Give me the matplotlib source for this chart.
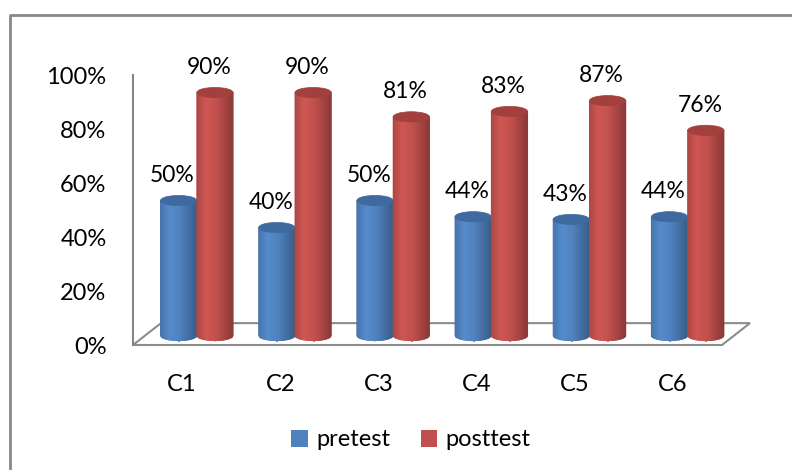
import numpy as np
import matplotlib
matplotlib.use('Agg')
import matplotlib.pyplot as plt
from matplotlib.patches import Polygon, Ellipse, Patch
from matplotlib.collections import PolyCollection
from matplotlib.lines import Line2D
from matplotlib.colors import to_rgb

categories = ['C1', 'C2', 'C3', 'C4', 'C5', 'C6']
pretest = [0.50, 0.40, 0.50, 0.44, 0.43, 0.44]
posttest = [0.90, 0.90, 0.81, 0.83, 0.87, 0.76]
series_names = ['pretest', 'posttest']
yticks = [0.0, 0.2, 0.4, 0.6, 0.8, 1.0]

body_colors = ['#4F81BD', '#C0504D']
top_colors = ['#3E6AA0', '#A33F3D']

plt.rcParams['font.family'] = ['Lato', 'DejaVu Sans']

fig = plt.figure(figsize=(7.92, 4.70), dpi=100)
ax = fig.add_axes([133 / 792, 125 / 470, 589 / 792, 270 / 470])
ax.set_xlim(-0.5, len(categories) - 0.5)
ax.set_ylim(0, 1)

# floor depth and cylinder placement, in data units
FLOOR_DX, FLOOR_DY = 0.285, 0.081
BAR_DX, BAR_DY = 0.15, 0.035
BAR_W = 0.37
RY = 0.019

# shading across a cylinder: dim left edge, highlight, dark right edge
t = np.linspace(0, 1, 48)
shade = np.interp(t, [0, 0.25, 0.55, 1], [0.9, 1.08, 1.0, 0.72])


def cylinder(xc, v, color, top, z):
    r = BAR_W / 2
    y0 = BAR_DY
    yt = y0 + v
    xs = xc - r + t * BAR_W
    ybot = y0 - RY * np.sqrt(np.clip(1 - ((xs - xc) / r) ** 2, 0, 1))
    rgb = np.array(to_rgb(color))
    verts, cols = [], []
    for k in range(len(xs) - 1):
        verts.append([(xs[k], ybot[k]), (xs[k + 1], ybot[k + 1]),
                      (xs[k + 1], yt), (xs[k], yt)])
        cols.append(np.clip(rgb * shade[k], 0, 1))
    pc = PolyCollection(verts, facecolors=cols, edgecolors=cols,
                        linewidths=0.6, clip_on=False, zorder=z)
    ax.add_collection(pc)
    ax.add_patch(Ellipse((xc, yt), BAR_W, 2 * RY, facecolor=top,
                         edgecolor=top, lw=0.5, clip_on=False, zorder=z + 0.5))


floor = Polygon([(-0.5, 0), (-0.5 + FLOOR_DX, FLOOR_DY),
                 (5.5 + FLOOR_DX, FLOOR_DY), (5.5, 0)], closed=True,
                fill=False, edgecolor='#8c8c8c', lw=1.5, clip_on=False, zorder=1)
ax.add_patch(floor)

for i, (a, b) in enumerate(zip(pretest, posttest)):
    for j, v in enumerate((a, b)):
        xc = i + BAR_DX + (j - 0.5) * BAR_W
        cylinder(xc, v, body_colors[j], top_colors[j], 3 + j)
        ax.annotate(f'{int(round(v * 100))}%', (xc, BAR_DY + v),
                    xytext=(-6, 25), textcoords='offset pixels',
                    ha='center', va='center', fontsize=16.5,
                    annotation_clip=False)

for s in ('top', 'right', 'bottom'):
    ax.spines[s].set_visible(False)
ax.spines['left'].set_color('#868686')
ax.spines['left'].set_linewidth(1.5)

ax.set_yticks(yticks)
ax.set_yticklabels([f'{int(round(v * 100))}%' for v in yticks])
ax.set_xticks(range(len(categories)))
ax.set_xticklabels(categories)
ax.tick_params(axis='y', length=0, pad=19, labelsize=17)
ax.tick_params(axis='x', length=0, pad=21, labelsize=17)

# chart frame (top and left edges)
fig.add_artist(Line2D([10 / 792, 10 / 792, 1], [0, 1 - 15 / 470, 1 - 15 / 470],
                      transform=fig.transFigure, color='#888888', lw=2))

handles = [Patch(facecolor=c, edgecolor='none') for c in body_colors]
fig.legend(handles, series_names, loc='center',
           bbox_to_anchor=(411 / 792, 1 - 440 / 470), ncol=2, frameon=False,
           fontsize=17, handlelength=0.7, handleheight=0.7,
           handletextpad=0.35, columnspacing=1.3)

fig.savefig('out.png', dpi=100)
